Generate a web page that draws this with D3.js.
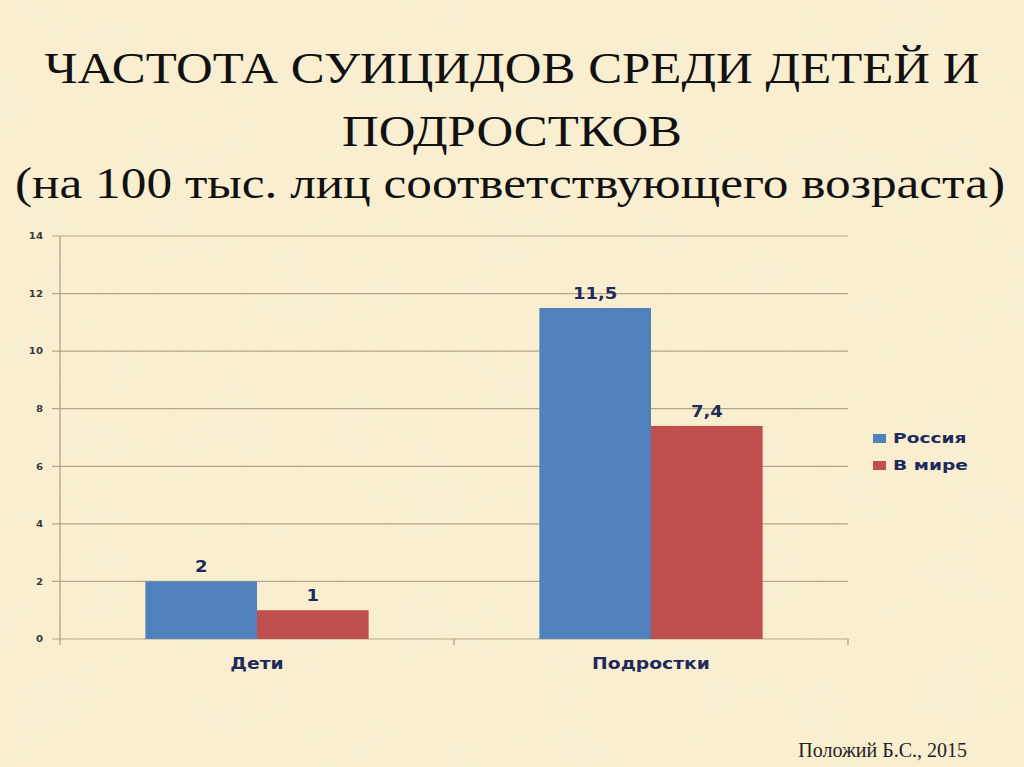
<!DOCTYPE html>
<html><head><meta charset="utf-8">
<script src="https://cdn.jsdelivr.net/npm/d3@7/dist/d3.min.js"></script>
<style>body{margin:0;background:#f8ecca;overflow:hidden}</style>
</head><body>
<svg id="c" width="1024" height="767"></svg>
<script>
const categories = ["Дети", "Подростки"];
const seriesNames = ["Россия", "В мире"];
const russia = [2, 11.5];
const world = [1, 7.4];
const valueLabels = [["2", "11,5"], ["1", "7,4"]];
const yTicks = [0, 2, 4, 6, 8, 10, 12, 14];
const titleLines = ["ЧАСТОТА СУИЦИДОВ СРЕДИ ДЕТЕЙ И", "ПОДРОСТКОВ", "(на 100 тыс. лиц соответствующего возраста)"];
const footer = "Положий Б.С., 2015";
const colors = ["#4f81bd", "#c0504d"];

(function(){
const svg = d3.select("#c");
const defs = svg.append("defs");
const f = defs.append("filter").attr("id","paper").attr("x",0).attr("y",0).attr("width","100%").attr("height","100%");
f.append("feTurbulence").attr("type","fractalNoise").attr("baseFrequency","0.015").attr("numOctaves",4).attr("seed",7);
f.append("feColorMatrix").attr("type","matrix").attr("values","0 0 0 0 0.93  0 0 0 0 0.86  0 0 0 0 0.70  0 0 0 0.5 -0.15");
svg.append("rect").attr("width",1024).attr("height",767).attr("fill","#f9eecf");
svg.append("rect").attr("width",1024).attr("height",767).attr("filter","url(#paper)").attr("opacity",0.6);

const FONT = "'DejaVu Sans', Verdana, sans-serif";
const NAVY = "#1f2a5a";
function stretched(sel, sx) {
  sel.each(function(){
    const t = d3.select(this);
    const x = +t.attr("x"), yy = +t.attr("y");
    t.attr("x", 0).attr("y", 0).attr("transform", `translate(${x},${yy}) scale(${sx},1)`);
  });
}

const tl = [{y:83, x:512, len:935}, {y:146, x:512, len:340}, {y:198, x:510, len:990}];
svg.selectAll("text.title").data(titleLines).join("text").attr("class","title")
  .attr("x",(d,i)=>tl[i].x).attr("y",(d,i)=>tl[i].y)
  .attr("text-anchor","middle")
  .attr("font-family","'Liberation Serif', 'Times New Roman', serif")
  .attr("font-size",44).attr("fill","#111")
  .attr("textLength",(d,i)=>tl[i].len).attr("lengthAdjust","spacingAndGlyphs")
  .text(d=>d);

svg.append("text").attr("x",967).attr("y",757).attr("text-anchor","end")
  .attr("font-family","'Liberation Serif', serif").attr("font-size",20).attr("fill","#222")
  .text(footer);

const pLeft = 60, pRight = 848, pTop = 236, pBottom = 639;
const y = d3.scaleLinear().domain([0,14]).range([pBottom, pTop]);
const x0 = d3.scaleBand().domain(categories).range([pLeft, pRight]).paddingInner(0).paddingOuter(0);
const x1 = d3.scaleBand().domain(seriesNames).range([0, x0.bandwidth()]).paddingInner(0).paddingOuter(0.7647);

const g = svg.append("g");
g.selectAll("line.grid").data(yTicks).join("line").attr("class","grid")
  .attr("x1", pLeft-8).attr("x2", pRight).attr("y1", d=>y(d)).attr("y2", d=>y(d))
  .attr("stroke","#b5a78a").attr("stroke-width",1.2);
g.append("line").attr("x1",pLeft).attr("x2",pLeft).attr("y1",pTop).attr("y2",pBottom+6)
  .attr("stroke","#a89c84").attr("stroke-width",1.2);
g.selectAll("line.ct").data(categories).join("line").attr("class","ct")
  .attr("x1",d=>x0(d)+x0.bandwidth()).attr("x2",d=>x0(d)+x0.bandwidth())
  .attr("y1",pBottom).attr("y2",pBottom+6).attr("stroke","#a89c84").attr("stroke-width",1.2);

const yAxis = d3.axisLeft(y).tickValues(yTicks).tickSize(0).tickPadding(17);
const ya = g.append("g").attr("transform",`translate(${pLeft},0)`).call(yAxis);
ya.select(".domain").remove();
ya.selectAll("text").attr("font-family",FONT).attr("font-size",8.5)
  .attr("font-weight","bold").attr("fill","#3a3a3a")
  .attr("transform","scale(1.2,1)").attr("x", -17/1.2);

const series = [russia, world];
series.forEach((vals, si) => {
  g.selectAll(null).data(categories).join("rect")
    .attr("x", d => x0(d) + x1(seriesNames[si]))
    .attr("width", x1.bandwidth())
    .attr("y", (d,i) => y(vals[i]))
    .attr("height", (d,i) => pBottom - y(vals[i]))
    .attr("fill", colors[si]);
  g.selectAll(null).data(categories).join("text")
    .attr("x", d => x0(d) + x1(seriesNames[si]) + x1.bandwidth()/2)
    .attr("y", (d,i) => y(vals[i]) - 9)
    .attr("text-anchor","middle")
    .attr("font-family",FONT).attr("font-weight","bold")
    .attr("font-size",15).attr("fill",NAVY)
    .text((d,i) => valueLabels[si][i])
    .call(stretched, 1.2);
});

g.selectAll("text.cat").data(categories).join("text").attr("class","cat")
  .attr("x", d => x0(d) + x0.bandwidth()/2).attr("y", 669)
  .attr("text-anchor","middle")
  .attr("font-family",FONT).attr("font-weight","bold")
  .attr("font-size",15).attr("fill",NAVY).text(d=>d)
  .call(stretched, 1.25);

const lg = svg.append("g").attr("transform","translate(873,433)");
seriesNames.forEach((n,i)=>{
  lg.append("rect").attr("x",0).attr("y",i*27+1).attr("width",13).attr("height",9).attr("fill",colors[i]);
  lg.append("text").attr("x",20).attr("y",i*27+10).attr("font-family",FONT)
    .attr("font-weight","bold").attr("font-size",14).attr("fill",NAVY).text(n)
    .call(stretched, 1.33);
});
})();
</script>
</body></html>
